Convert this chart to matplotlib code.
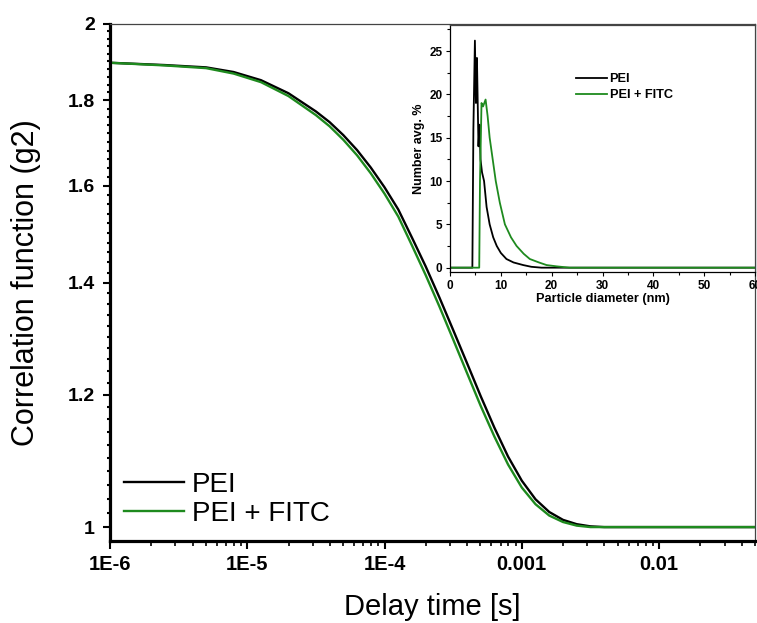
import numpy as np
import matplotlib
matplotlib.use("Agg")
import matplotlib.pyplot as plt
from matplotlib.ticker import FixedLocator, NullFormatter, LogLocator

plt.rcParams['font.family'] = ['Liberation Sans', 'DejaVu Sans']

# ---- main data: correlation function ----
log_delay = [-6.0, -5.6, -5.3, -5.1, -4.9, -4.7, -4.5, -4.4, -4.3, -4.2,
             -4.1, -4.0, -3.9, -3.8, -3.7, -3.6, -3.5, -3.4, -3.3, -3.2,
             -3.1, -3.0, -2.9, -2.8, -2.7, -2.6, -2.5, -2.4, -2.2, -1.301]
g2_pei = [1.896, 1.890, 1.884, 1.872, 1.851, 1.818, 1.773, 1.747, 1.716, 1.681,
          1.641, 1.597, 1.549, 1.490, 1.432, 1.372, 1.312, 1.254, 1.198, 1.147,
          1.102, 1.066, 1.039, 1.021, 1.010, 1.004, 1.001, 1.000, 1.000, 1.000]
g2_fitc = [1.896, 1.889, 1.882, 1.868, 1.846, 1.811, 1.764, 1.737, 1.705, 1.669,
           1.628, 1.583, 1.534, 1.474, 1.415, 1.355, 1.295, 1.237, 1.182, 1.133,
           1.090, 1.056, 1.032, 1.016, 1.007, 1.002, 1.000, 1.000, 1.000, 1.000]
delay = [10 ** v for v in log_delay]

x_ticks = [1e-6, 1e-5, 1e-4, 1e-3, 1e-2]
x_tick_labels = ['1E-6', '1E-5', '1E-4', '0.001', '0.01']
y_ticks = [1.0, 1.2, 1.4, 1.6, 1.8, 2.0]
y_tick_labels = ['1', '1.2', '1.4', '1.6', '1.8', '2']

# ---- inset data: size distribution ----
d_pei = [0, 4.4, 4.6, 4.9, 5.1, 5.3, 5.6, 5.8, 6.0, 6.3, 6.7, 7.2, 7.8,
         8.5, 9.2, 10.0, 11.1, 12.5, 14.4, 16.0, 18.0, 60]
n_pei = [0, 0, 16, 26.2, 19, 24.2, 14, 16.5, 12.5, 11, 10, 7, 5,
         3.5, 2.5, 1.7, 1.0, 0.6, 0.3, 0.1, 0, 0]
d_fitc = [0, 5.75, 5.9, 6.2, 6.5, 7.0, 7.4, 7.8, 8.4, 9.0, 9.8, 10.8, 12.0,
          13.1, 14.5, 15.7, 17.5, 19.0, 21.0, 23.5, 60]
n_fitc = [0, 0, 10, 19, 18.6, 19.4, 17.5, 15, 12.5, 10, 7.5, 5, 3.5,
          2.5, 1.6, 1.0, 0.6, 0.3, 0.15, 0, 0]

green = '#1e8a1e'

fig = plt.figure(figsize=(7.57, 6.23), dpi=100)
ax = fig.add_axes([110 / 757, (623 - 541) / 623, 645 / 757, 517 / 623])

ax.plot(delay, g2_pei, color='black', lw=1.7, label='PEI')
ax.plot(delay, g2_fitc, color=green, lw=1.7, label='PEI + FITC')

ax.set_xscale('log')
ax.set_yscale('log')
ax.set_xlim(1e-6, 0.05)
ax.set_ylim(0.981, 2.0)

ax.xaxis.set_major_locator(FixedLocator(x_ticks))
ax.set_xticklabels(x_tick_labels)
ax.xaxis.set_minor_locator(LogLocator(base=10, subs=np.arange(2, 10)))
ax.xaxis.set_minor_formatter(NullFormatter())

ax.yaxis.set_major_locator(FixedLocator(y_ticks))
ax.set_yticklabels(y_tick_labels)
ax.yaxis.set_minor_locator(FixedLocator(np.arange(0.98, 2.0, 0.02)))
ax.yaxis.set_minor_formatter(NullFormatter())

for lab in ax.get_xticklabels():
    lab.set_fontweight('bold')
    lab.set_fontsize(14.5)
for lab in ax.get_yticklabels():
    lab.set_fontweight('bold')
    lab.set_fontsize(14)

ax.tick_params(axis='x', which='major', direction='out', length=6, width=1.5, pad=4)
ax.tick_params(axis='x', which='minor', direction='out', length=3.5, width=1.2)
ax.tick_params(axis='y', which='major', direction='out', length=5, width=1.5, pad=6)
ax.tick_params(axis='y', which='minor', direction='out', length=2, width=1.5)

for s in ['left', 'bottom']:
    ax.spines[s].set_linewidth(2.3)
for s in ['top', 'right']:
    ax.spines[s].set_linewidth(0.9)
    ax.spines[s].set_color('#444444')

ax.set_xlabel('Delay time [s]', fontsize=21, labelpad=14)
ax.set_ylabel('Correlation function (g2)', fontsize=22, labelpad=19)

ax.legend(loc='lower left', bbox_to_anchor=(0.0, 0.0), frameon=False,
          fontsize=20, handlelength=2.15, labelspacing=0.12,
          handletextpad=0.3, borderpad=0.2, borderaxespad=0.3)

# ---- inset ----
ins = fig.add_axes([450 / 757, (623 - 272) / 623, 305 / 757, 247 / 623])
ins.plot(d_pei, n_pei, color='black', lw=1.3, label='PEI')
ins.plot(d_fitc, n_fitc, color=green, lw=1.3, label='PEI + FITC')
ins.set_xlim(0, 60)
ins.set_ylim(-0.5, 28)
ins.set_xticks([0, 10, 20, 30, 40, 50, 60])
ins.set_xticks(np.arange(5, 60, 10), minor=True)
ins.set_yticks([0, 5, 10, 15, 20, 25])
ins.set_yticks(np.arange(2.5, 28, 5), minor=True)
ins.tick_params(which='major', direction='out', length=3, width=0.8, labelsize=8.5, pad=2.5)
ins.tick_params(which='minor', direction='out', length=2, width=0.8)
for lab in ins.get_xticklabels() + ins.get_yticklabels():
    lab.set_fontweight('bold')
ins.set_xlabel('Particle diameter (nm)', fontsize=9.2, fontweight='bold', labelpad=1)
ins.set_ylabel('Number avg. %', fontsize=9, fontweight='bold', labelpad=3)
for s in ins.spines.values():
    s.set_linewidth(0.9)
ins.spines['top'].set_color('#444444')
ins.spines['right'].set_color('#444444')
ins.legend(loc='upper left', bbox_to_anchor=(0.385, 0.84), frameon=False,
           prop={'size': 9.2, 'weight': 'bold'}, handlelength=2.4,
           labelspacing=0.3, handletextpad=0.2, borderpad=0.2)

fig.savefig('out.png', dpi=100)
